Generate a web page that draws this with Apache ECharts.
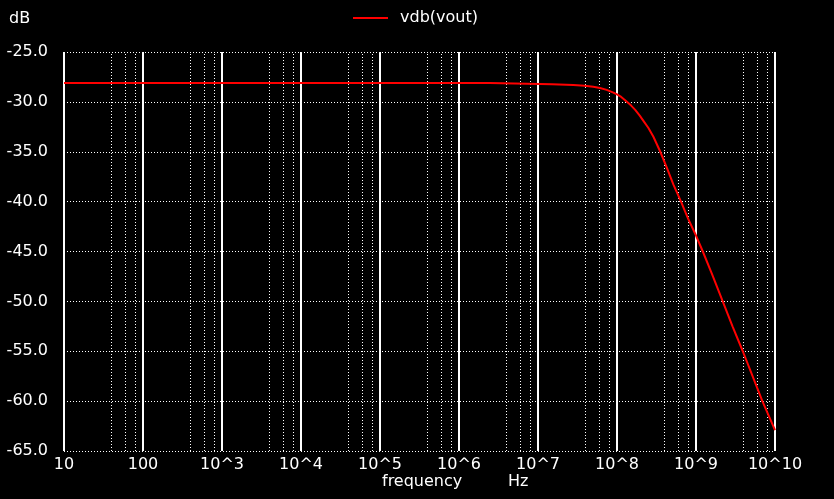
<!DOCTYPE html>
<html>
<head>
<meta charset="utf-8">
<script src="https://cdn.jsdelivr.net/npm/echarts@6/dist/echarts.min.js"></script>
<style>
html,body{margin:0;padding:0;background:#000;}
#chart{width:834px;height:499px;}
</style>
</head>
<body>
<div id="chart"></div>
<script>
// Frequencies (Hz) and magnitudes (dB)
var freq = [10, 1e3, 1e5, 2.45e6, 2.5e6, 1.5e7, 2.8e7, 3.9e7, 5.0e7, 6.1e7, 7.4e7, 9.0e7, 1.0e8, 1.13e8, 1.3e8, 1.5e8, 1.7e8, 1.93e8, 2.16e8, 2.5e8, 2.89e8, 3.51e8, 4.27e8, 5.18e8, 6.46e8, 7.94e8, 1.0e9, 1.22e9, 1.6e9, 2.18e9, 2.9e9, 3.91e9, 5.2e9, 6.92e9, 1e10];
var vdb  = [-28.11, -28.11, -28.11, -28.11, -28.21, -28.24, -28.3, -28.38, -28.48, -28.61, -28.8, -29.07, -29.25, -29.5, -29.92, -30.35, -30.8, -31.35, -31.9, -32.62, -33.5, -34.95, -36.6, -38.3, -40.0, -41.7, -43.4, -45.0, -47.3, -50.0, -52.5, -55.0, -57.5, -60.0, -62.9];
var seriesName = 'vdb(vout)';
var xTickLabels = ['10', '100', '10^3', '10^4', '10^5', '10^6', '10^7', '10^8', '10^9', '10^10'];
var minorMultipliers = [4, 6, 8];

var decades = [1, 2, 3, 4, 5, 6, 7, 8, 9];
var minorLines = [];
decades.forEach(function (e) {
  minorMultipliers.forEach(function (m) {
    minorLines.push({ xAxis: m * Math.pow(10, e) });
  });
});

var font = '"DejaVu Sans", sans-serif';
var chart = echarts.init(document.getElementById('chart'), null, { renderer: 'canvas' });
chart.setOption({
  backgroundColor: '#000000',
  animation: false,
  textStyle: { fontFamily: font },
  grid: { left: 64, right: 59, top: 52, bottom: 48, containLabel: false },
  legend: {
    data: [seriesName],
    left: 353,
    top: 10,
    padding: 0,
    itemWidth: 35,
    itemHeight: 2,
    icon: 'rect',
    textStyle: { color: '#ffffff', fontSize: 16, fontFamily: font, padding: [1, 0, 0, 7] }
  },
  xAxis: {
    type: 'log',
    logBase: 10,
    min: 10,
    max: 1e10,
    interval: 1,
    axisLine: { show: false },
    axisTick: { show: false },
    axisLabel: {
      color: '#ffffff',
      fontSize: 16,
      fontFamily: font,
      margin: 6,
      showMinLabel: true,
      showMaxLabel: true,
      formatter: function (v) {
        var idx = Math.round(Math.log10(v)) - 1;
        return xTickLabels[idx];
      }
    },
    splitLine: { show: true, lineStyle: { color: '#ffffff', width: 2, type: 'solid' } }
  },
  yAxis: {
    type: 'value',
    min: -65,
    max: -25,
    interval: 5,
    axisLine: { show: false },
    axisTick: { show: false },
    axisLabel: {
      color: '#ffffff',
      fontSize: 16,
      fontFamily: font,
      margin: 16,
      formatter: function (v) { return v.toFixed(1); }
    },
    splitLine: { show: true, lineStyle: { color: '#ffffff', width: 1, type: [1, 2] } }
  },
  graphic: [
    { type: 'text', style: { x: 9, y: 18.5, text: 'dB', fill: '#ffffff', font: '16px ' + font, verticalAlign: 'middle' } },
    { type: 'text', style: { x: 382, y: 482, text: 'frequency', fill: '#ffffff', font: '16px ' + font, verticalAlign: 'middle' } },
    { type: 'text', style: { x: 508, y: 482, text: 'Hz', fill: '#ffffff', font: '16px ' + font, verticalAlign: 'middle' } }
  ],
  series: [
    {
      name: 'minor',
      type: 'line',
      data: [],
      z: 1,
      silent: true,
      markLine: {
        silent: true,
        symbol: ['none', 'none'],
        label: { show: false },
        lineStyle: { color: '#ffffff', width: 1, type: [1, 2] },
        emphasis: { disabled: true },
        data: minorLines
      }
    },
    {
      name: seriesName,
      type: 'line',
      z: 5,
      showSymbol: false,
      symbol: 'none',
      color: '#ff0000',
      lineStyle: { color: '#ff0000', width: 2 },
      data: freq.map(function (f, i) { return [f, vdb[i]]; })
    }
  ]
});
</script>
</body>
</html>
